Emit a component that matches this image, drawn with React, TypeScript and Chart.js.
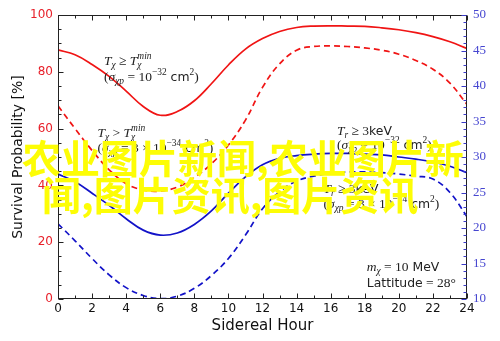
import React, { useEffect, useRef } from 'react';
import { Chart, registerables } from 'chart.js';

Chart.register(...registerables);

const hours = [0, 1, 2, 3, 4, 5, 6, 7, 8, 9, 10, 11, 12, 13, 14, 15, 16, 17, 18, 19, 20, 21, 22, 23, 24];
const redSolid = [87.7, 86.0, 82.6, 78.4, 73.2, 67.8, 64.7, 66.0, 69.8, 75.8, 82.4, 88.0, 91.7, 94.2, 95.6, 96.1, 96.2, 96.1, 96.0, 95.5, 94.8, 93.8, 92.4, 90.6, 88.2];
const redDashed = [68.0, 60.0, 52.3, 45.5, 40.6, 38.4, 38.0, 39.4, 42.8, 47.6, 54.2, 63.0, 74.5, 82.8, 87.6, 88.9, 89.1, 88.9, 88.4, 87.6, 86.2, 84.0, 80.9, 76.0, 68.5];
const blueSolid = [27.6, 26.5, 24.9, 23.2, 21.3, 19.7, 19.0, 19.3, 20.5, 22.4, 24.9, 27.2, 28.9, 29.8, 30.2, 30.4, 30.5, 30.5, 30.4, 30.3, 30.0, 29.7, 29.3, 28.7, 27.8];
const blueDashed = [20.6, 18.2, 15.7, 13.4, 11.6, 10.5, 10.05, 10.4, 11.5, 13.3, 15.7, 19.0, 22.7, 25.1, 26.6, 27.3, 27.7, 27.9, 27.9, 27.8, 27.6, 27.3, 26.9, 25.0, 21.6];

const xTitle = 'Sidereal Hour';
const yTitle = 'Survival Probability [%]';
const overlayLines = ['农业图片新闻,农业图片新', '闻,图片资讯,图片资讯'];

type Run = { t: string; f: 'i' | 'r' | 's'; v?: 'sub' | 'sup'; stack?: boolean };

const lineSigma32: Run[] = [
  { t: '(', f: 'r' }, { t: 'σ', f: 'i' }, { t: 'χp', f: 'i', v: 'sub' },
  { t: ' = 10', f: 'r' }, { t: '−32', f: 'r', v: 'sup' }, { t: ' cm', f: 's' },
  { t: '2', f: 'r', v: 'sup' }, { t: ')', f: 'r' },
];
const lineSigma34: Run[] = [
  { t: '(', f: 'r' }, { t: 'σ', f: 'i' }, { t: 'χp', f: 'i', v: 'sub' },
  { t: ' = 3 × 10', f: 'r' }, { t: '−34', f: 'r', v: 'sup' }, { t: ' cm', f: 's' },
  { t: '2', f: 'r', v: 'sup' }, { t: ')', f: 'r' },
];
const lineTmin = (rel: string): Run[] => [
  { t: 'T', f: 'i' }, { t: 'χ', f: 'i', v: 'sub' }, { t: ` ${rel} `, f: 'r' },
  { t: 'T', f: 'i' }, { t: 'χ', f: 'i', v: 'sub' }, { t: 'min', f: 'i', v: 'sup', stack: true },
];
const lineTr: Run[] = [
  { t: 'T', f: 'i' }, { t: 'r', f: 'i', v: 'sub' }, { t: ' ≥ 3', f: 'r' }, { t: 'keV', f: 's' },
];

// annotation anchors in data coordinates (hour, left-axis %)
const annotations = [
  { h: 2.7, v: 82.4, gap: 16, lines: [lineTmin('≥'), lineSigma32] },
  { h: 2.32, v: 57.2, gap: 15, lines: [lineTmin('>'), lineSigma34] },
  { h: 16.37, v: 57.7, gap: 13.5, lines: [lineTr, lineSigma32] },
  { h: 15.58, v: 37.3, gap: 15, lines: [lineTr, lineSigma34] },
  {
    h: 18.12, v: 9.7, gap: 15.5, lines: [
      [{ t: 'm', f: 'i' }, { t: 'χ', f: 'i', v: 'sub' }, { t: ' = 10', f: 'r' }, { t: ' MeV', f: 's' }] as Run[],
      [{ t: 'Lattitude', f: 's' }, { t: ' = 28°', f: 'r' }] as Run[],
    ],
  },
];

const fontFor = (f: string, sz: number) => {
  if (f === 'i') return `italic ${sz}px "Liberation Serif"`;
  if (f === 'r') return `${sz}px "Liberation Serif"`;
  return `${sz * 0.92}px "DejaVu Sans"`;
};

function drawRuns(ctx: CanvasRenderingContext2D, x: number, y: number, runs: Run[], size: number) {
  let cx = x;
  let lastStart = x;
  let lastEnd = x;
  for (const r of runs) {
    const sz = r.v ? size * 0.7 : size;
    ctx.font = fontFor(r.f, sz);
    const dy = r.v === 'sub' ? size * 0.22 : r.v === 'sup' ? -size * 0.42 : 0;
    const sx = r.stack ? lastStart : cx;
    ctx.fillText(r.t, sx, y + dy);
    const w = ctx.measureText(r.t).width;
    if (r.stack) {
      cx = Math.max(lastEnd, sx + w);
    } else {
      lastStart = sx;
      cx = sx + w;
    }
    lastEnd = cx;
  }
}

const decorPlugin = {
  id: 'decor',
  afterDraw(chart: any) {
    const ctx: CanvasRenderingContext2D = chart.ctx;
    const ca = chart.chartArea;
    const xs = chart.scales.x;
    const yl = chart.scales.y;
    const yr = chart.scales.y2;
    ctx.save();
    ctx.strokeStyle = '#222';
    ctx.lineWidth = 1;
    const L = Math.round(ca.left) + 0.5;
    const R = Math.round(ca.right) - 0.5;
    const T = Math.round(ca.top) + 0.5;
    const B = Math.round(ca.bottom) - 0.5;
    ctx.strokeRect(L, T, R - L, B - T);
    ctx.beginPath();
    for (let v = 0; v <= 24; v += 1) {
      const px = Math.round(xs.getPixelForValue(v)) + 0.5;
      const len = v % 2 === 0 ? 5 : 3;
      ctx.moveTo(px, B); ctx.lineTo(px, B - len);
      ctx.moveTo(px, T); ctx.lineTo(px, T + len);
    }
    for (let v = 0; v <= 100; v += 5) {
      const py = Math.round(yl.getPixelForValue(v)) + 0.5;
      const len = v % 20 === 0 ? 5 : 3;
      ctx.moveTo(L, py); ctx.lineTo(L + len, py);
    }
    ctx.stroke();
    ctx.strokeStyle = '#3a3ac8';
    ctx.beginPath();
    for (let v = 10; v <= 50; v += 1) {
      const py = Math.round(yr.getPixelForValue(v)) + 0.5;
      const len = v % 5 === 0 ? 5 : 3;
      ctx.moveTo(R, py); ctx.lineTo(R - len, py);
    }
    ctx.stroke();
    ctx.fillStyle = '#222';
    ctx.textBaseline = 'alphabetic';
    ctx.textAlign = 'left';
    for (const a of annotations) {
      const x = xs.getPixelForValue(a.h);
      const y = yl.getPixelForValue(a.v);
      a.lines.forEach((ln, i) => drawRuns(ctx, x, y + i * a.gap, ln, 13.5));
    }
    ctx.fillStyle = '#fdfd05';
    ctx.font = 'bold 39px "Noto Sans CJK SC"';
    ctx.textBaseline = 'middle';
    ctx.fillText(overlayLines[0], 22, 158);
    ctx.fillText(overlayLines[1], 42, 195);
    ctx.restore();
  },
};

const bgPlugin = {
  id: 'bg',
  beforeDraw(chart: any) {
    const ctx = chart.ctx;
    ctx.save();
    ctx.fillStyle = '#ffffff';
    ctx.fillRect(0, 0, chart.width, chart.height);
    ctx.restore();
  },
};

export default function App() {
  const ref = useRef<HTMLCanvasElement | null>(null);
  useEffect(() => {
    if (!ref.current) return;
    const mk = (vals: number[]) => hours.map((h, i) => ({ x: h, y: vals[i] }));
    const red = '#f01414';
    const blue = '#1212c8';
    const chart = new Chart(ref.current, {
      type: 'line',
      data: {
        datasets: [
          { data: mk(redSolid), borderColor: red, borderWidth: 1.7, yAxisID: 'y' },
          { data: mk(redDashed), borderColor: red, borderWidth: 1.7, borderDash: [6, 4], yAxisID: 'y' },
          { data: mk(blueSolid), borderColor: blue, borderWidth: 1.7, yAxisID: 'y2' },
          { data: mk(blueDashed), borderColor: blue, borderWidth: 1.7, borderDash: [6, 4], yAxisID: 'y2' },
        ] as any,
      },
      options: {
        responsive: false,
        animation: false,
        devicePixelRatio: 1,
        layout: { padding: { top: 15, left: 0, right: 0, bottom: 0 } },
        elements: {
          point: { radius: 0 },
          line: { tension: 0.4, fill: false },
        },
        plugins: { legend: { display: false }, tooltip: { enabled: false } },
        scales: {
          x: {
            type: 'linear', position: 'bottom', min: 0, max: 24,
            grid: { display: false, drawTicks: false },
            border: { display: false },
            ticks: { stepSize: 2, color: '#111', font: { family: 'DejaVu Sans', size: 12 }, padding: 3, maxRotation: 0 },
            title: { display: true, text: xTitle, color: '#111', font: { family: 'DejaVu Sans', size: 15 }, padding: { top: 0, bottom: 6 } },
            afterFit: (s: any) => { s.height = 42; },
          },
          y: {
            type: 'linear', position: 'left', min: 0, max: 100,
            grid: { display: false, drawTicks: false },
            border: { display: false },
            ticks: { stepSize: 20, color: '#e8202a', font: { family: 'DejaVu Sans', size: 12 }, padding: 5 },
            title: { display: true, text: yTitle, color: '#111', font: { family: 'DejaVu Sans', size: 14 }, padding: { top: 10, bottom: 0 } },
            afterFit: (s: any) => { s.width = 58; },
          },
          y2: {
            type: 'linear', position: 'right', min: 10, max: 50,
            grid: { display: false, drawTicks: false },
            border: { display: false },
            ticks: { stepSize: 5, color: '#4646d0', font: { family: 'Liberation Serif', size: 13 }, padding: 6 },
            afterFit: (s: any) => { s.width = 33; },
          },
        },
      } as any,
      plugins: [bgPlugin, decorPlugin],
    });
    return () => chart.destroy();
  }, []);
  return (
    <div style={{ position: 'absolute', left: 0, top: 0, width: 500, height: 341 }}>
      <canvas ref={ref} width={500} height={341} />
    </div>
  );
}
